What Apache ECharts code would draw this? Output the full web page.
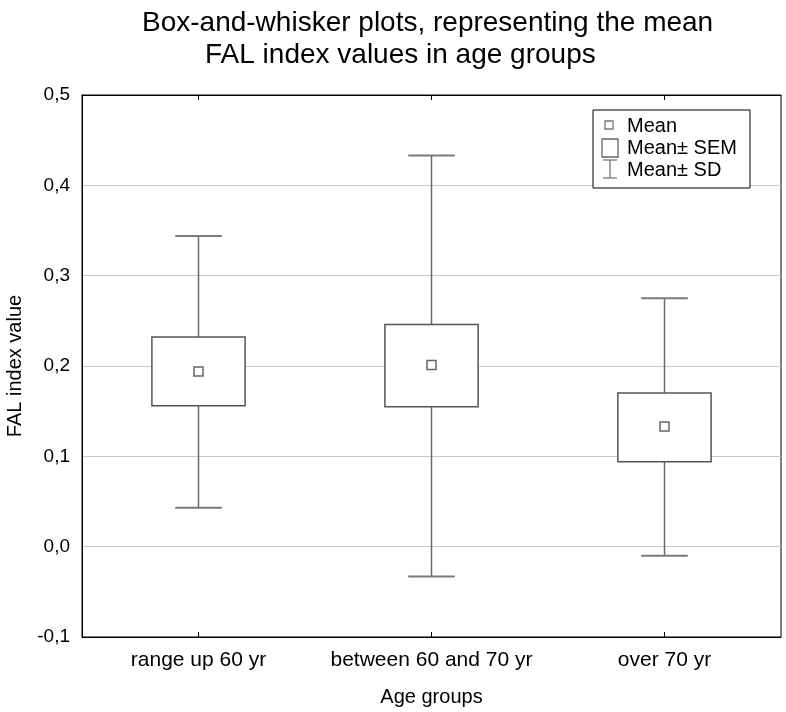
<!DOCTYPE html>
<html>
<head>
<meta charset="utf-8">
<script src="https://cdn.jsdelivr.net/npm/echarts@6/dist/echarts.min.js"></script>
<style>html,body{margin:0;padding:0;background:#fff}#c{width:786px;height:712px}</style>
</head>
<body>
<div id="c"></div>
<script>
const categories = ['range up 60 yr', 'between 60 and 70 yr', 'over 70 yr'];
const meanValues = [0.194, 0.201, 0.133];
const semLow = [0.156, 0.155, 0.094];
const semHigh = [0.232, 0.246, 0.170];
const sdLow = [0.043, -0.033, -0.010];
const sdHigh = [0.344, 0.433, 0.275];
const legendLabels = ['Mean', 'Mean\u00b1 SEM', 'Mean\u00b1 SD'];

const FONT = '"Liberation Sans", Arial, Helvetica, sans-serif';
const chart = echarts.init(document.getElementById('c'), null, {renderer: 'canvas'});

const data = categories.map((c, i) => [i, sdLow[i], semLow[i], meanValues[i], semHigh[i], sdHigh[i]]);

function renderItem(params, api) {
  const i = api.value(0);
  const pLo = api.coord([i, api.value(1)]);
  const pSemLo = api.coord([i, api.value(2)]);
  const pMean = api.coord([i, api.value(3)]);
  const pSemHi = api.coord([i, api.value(4)]);
  const pHi = api.coord([i, api.value(5)]);
  const bw = api.size([1, 0])[0] * 0.4;
  const cw = bw * 0.5;
  const x = pMean[0];
  const ms = 9;
  return {
    type: 'group',
    children: [
      {type: 'line', shape: {x1: x, y1: pHi[1], x2: x, y2: pLo[1]}, style: {stroke: '#6a6a6a', lineWidth: 1.5}},
      {type: 'line', shape: {x1: x - cw / 2, y1: pHi[1], x2: x + cw / 2, y2: pHi[1]}, style: {stroke: '#7a7a7a', lineWidth: 2}},
      {type: 'line', shape: {x1: x - cw / 2, y1: pLo[1], x2: x + cw / 2, y2: pLo[1]}, style: {stroke: '#7a7a7a', lineWidth: 2}},
      {type: 'rect', shape: {x: x - bw / 2, y: pSemHi[1], width: bw, height: pSemLo[1] - pSemHi[1]}, style: {fill: '#fff', stroke: '#555', lineWidth: 1.5}},
      {type: 'rect', shape: {x: x - ms / 2, y: pMean[1] - ms / 2, width: ms, height: ms}, style: {fill: '#fff', stroke: '#666', lineWidth: 1.5}}
    ]
  };
}

const fmt = v => (Math.round(v * 10) / 10).toFixed(1).replace('.', ',');

const lgX = 593, lgY = 110;
chart.setOption({
  animation: false,
  backgroundColor: '#fff',
  textStyle: {fontFamily: FONT},
  title: [
    {text: 'Box-and-whisker plots, representing the mean', left: 137, top: 4,
     textStyle: {fontFamily: FONT, fontSize: 28, fontWeight: 'normal', color: '#000'}},
    {text: 'FAL index values in age groups', left: 200, top: 36,
     textStyle: {fontFamily: FONT, fontSize: 28, fontWeight: 'normal', color: '#000'}}
  ],
  grid: {left: 82, right: 5, top: 95, bottom: 75, show: true, borderColor: '#000', borderWidth: 1,
         backgroundColor: 'transparent', containLabel: false, outerBoundsMode: 'none'},
  xAxis: [
    {type: 'category', data: categories, position: 'bottom',
     axisLine: {show: true, onZero: false, lineStyle: {color: '#000', width: 1}},
     axisTick: {show: true, inside: true, length: 5, alignWithLabel: true, lineStyle: {color: '#000'}},
     axisLabel: {fontFamily: FONT, fontSize: 21, color: '#000', margin: 13, interval: 0},
     name: 'Age groups', nameLocation: 'middle', nameGap: 50,
     nameTextStyle: {fontFamily: FONT, fontSize: 20, color: '#000'}},
    {type: 'category', data: categories, position: 'top',
     axisLine: {show: true, onZero: false, lineStyle: {color: '#000', width: 1}},
     axisTick: {show: true, inside: true, length: 5, alignWithLabel: true, lineStyle: {color: '#000'}},
     axisLabel: {show: false}}
  ],
  yAxis: {
    type: 'value', min: -0.1, max: 0.5, interval: 0.1,
    axisLine: {show: true, onZero: false, lineStyle: {color: '#000', width: 1}},
    axisTick: {show: false},
    splitLine: {show: true, lineStyle: {color: '#c8c8c8', width: 1}},
    axisLabel: {fontFamily: FONT, fontSize: 19, color: '#000', margin: 12, formatter: fmt},
    name: 'FAL index value', nameLocation: 'middle', nameGap: 57, nameRotate: 90,
    nameTextStyle: {fontFamily: FONT, fontSize: 20, color: '#000'}
  },
  series: [{
    type: 'custom', name: 'FAL', xAxisIndex: 0, renderItem: renderItem,
    encode: {x: 0, y: [1, 2, 3, 4, 5]}, data: data, z: 5
  }],
  graphic: [
    {type: 'rect', shape: {x: lgX, y: lgY, width: 157, height: 78}, style: {fill: '#fff', stroke: '#000', lineWidth: 1}, z: 10},
    {type: 'rect', shape: {x: 605, y: 121, width: 8, height: 8}, style: {fill: '#fff', stroke: '#777', lineWidth: 1.3}, z: 11},
    {type: 'rect', shape: {x: 602, y: 139, width: 16, height: 18}, style: {fill: '#fff', stroke: '#666', lineWidth: 1.3}, z: 11},
    {type: 'line', shape: {x1: 610, y1: 160, x2: 610, y2: 178}, style: {stroke: '#777', lineWidth: 1.3}, z: 11},
    {type: 'line', shape: {x1: 603, y1: 160, x2: 617, y2: 160}, style: {stroke: '#777', lineWidth: 1.3}, z: 11},
    {type: 'line', shape: {x1: 603, y1: 178, x2: 617, y2: 178}, style: {stroke: '#777', lineWidth: 1.3}, z: 11},
    {type: 'text', x: 627, y: 126, style: {text: legendLabels[0], font: '20px ' + FONT, fill: '#000', verticalAlign: 'middle'}, z: 11},
    {type: 'text', x: 627, y: 148, style: {text: legendLabels[1], font: '20px ' + FONT, fill: '#000', verticalAlign: 'middle'}, z: 11},
    {type: 'text', x: 627, y: 170, style: {text: legendLabels[2], font: '20px ' + FONT, fill: '#000', verticalAlign: 'middle'}, z: 11}
  ]
});
</script>
</body>
</html>
